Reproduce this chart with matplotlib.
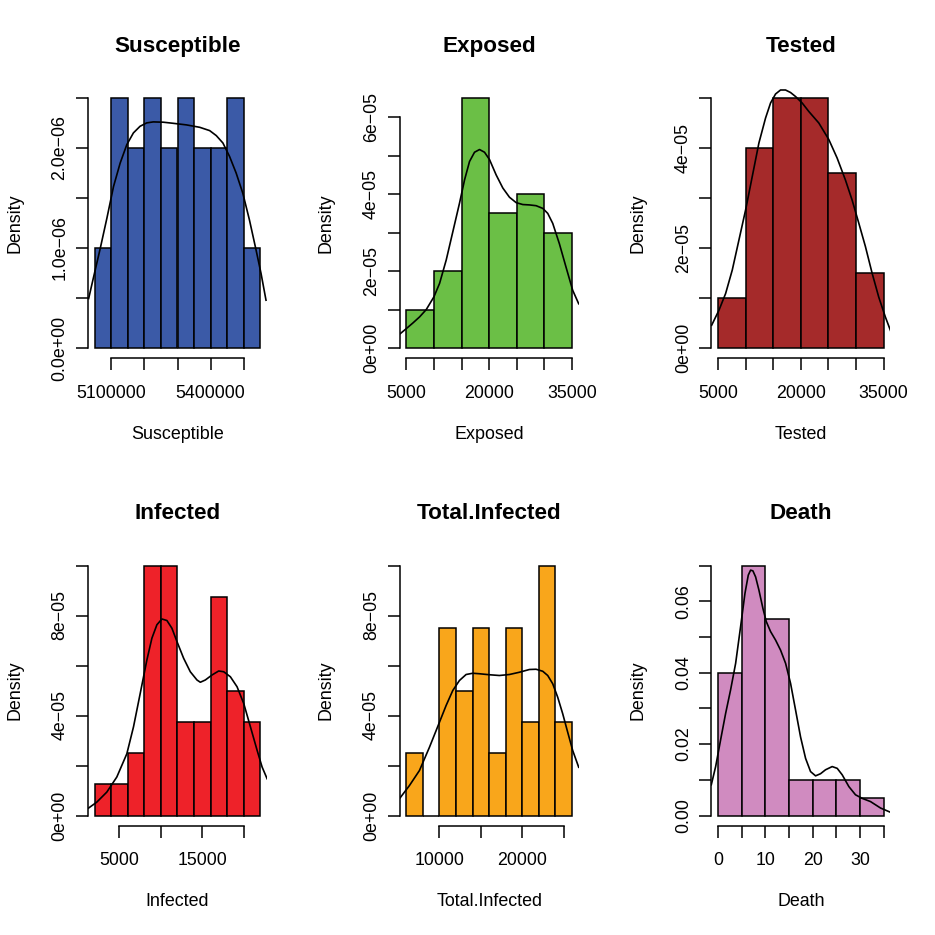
import matplotlib
matplotlib.use('Agg')
import matplotlib.pyplot as plt
import numpy as np

plt.rcParams['font.family'] = ['Liberation Sans', 'DejaVu Sans']

# histogram breaks and densities
sus_breaks = [5050000, 5100000, 5150000, 5200000, 5250000, 5300000, 5350000, 5400000, 5450000, 5500000, 5550000]
sus_density = [1.0e-6, 2.5e-6, 2.0e-6, 2.5e-6, 2.0e-6, 2.5e-6, 2.0e-6, 2.0e-6, 2.5e-6, 1.0e-6]
# density curve points
sus_kde_x = [5032000, 5047000, 5067000, 5087000, 5107000, 5127000, 5147000, 5167000, 5187000, 5207000,
             5227000, 5257000, 5287000, 5327000, 5367000, 5397000, 5417000, 5437000, 5457000, 5477000,
             5497000, 5517000, 5537000, 5552000, 5567000]
sus_kde_y = [0.495e-6, 0.712e-6, 0.997e-6, 1.298e-6, 1.615e-6, 1.849e-6, 2.033e-6, 2.151e-6, 2.217e-6, 2.251e-6,
             2.261e-6, 2.258e-6, 2.247e-6, 2.231e-6, 2.207e-6, 2.174e-6, 2.124e-6, 2.050e-6, 1.916e-6, 1.749e-6,
             1.548e-6, 1.281e-6, 0.980e-6, 0.746e-6, 0.478e-6]

exp_breaks = [5000, 10000, 15000, 20000, 25000, 30000, 35000]
exp_density = [1.0e-5, 2.0e-5, 6.5e-5, 3.5e-5, 4.0e-5, 3.0e-5]
exp_kde_x = [3916, 5000, 6205, 7410, 8614, 10000, 11024, 12229, 13434, 14638,
             15542, 16446, 17349, 18253, 19157, 20060, 21265, 22470, 23674, 24879,
             26084, 27289, 28494, 29699, 30602, 31506, 32711, 33916, 35120, 36205]
exp_kde_y = [0.374e-5, 0.504e-5, 0.652e-5, 0.809e-5, 1.00e-5, 1.33e-5, 1.68e-5, 2.29e-5, 3.03e-5, 3.77e-5,
             4.37e-5, 4.85e-5, 5.09e-5, 5.16e-5, 5.09e-5, 4.90e-5, 4.50e-5, 4.16e-5, 3.92e-5, 3.78e-5,
             3.73e-5, 3.72e-5, 3.70e-5, 3.63e-5, 3.50e-5, 3.24e-5, 2.71e-5, 2.10e-5, 1.50e-5, 1.15e-5]

tes_breaks = [5000, 10000, 15000, 20000, 25000, 30000, 35000]
tes_density = [1.0e-5, 4.0e-5, 5.0e-5, 5.0e-5, 3.5e-5, 1.5e-5]
tes_kde_x = [3855, 5181, 6386, 7590, 8795, 10000, 11205, 12410, 13614, 14518,
             15422, 16325, 17229, 18133, 19036, 20241, 21446, 23253, 25060, 26566,
             28072, 29277, 30482, 31687, 32892, 34096, 35301, 36325]
tes_kde_y = [0.455e-5, 0.756e-5, 1.09e-5, 1.56e-5, 2.16e-5, 2.76e-5, 3.43e-5, 4.10e-5, 4.60e-5, 4.90e-5,
             5.08e-5, 5.16e-5, 5.16e-5, 5.11e-5, 5.03e-5, 4.90e-5, 4.73e-5, 4.50e-5, 4.17e-5, 3.80e-5,
             3.36e-5, 2.96e-5, 2.50e-5, 2.03e-5, 1.50e-5, 1.02e-5, 0.62e-5, 0.32e-5]

inf_breaks = [2000, 4000, 6000, 8000, 10000, 12000, 14000, 16000, 18000, 20000, 22000]
inf_density = [1.25e-5, 1.25e-5, 2.5e-5, 10.0e-5, 10.0e-5, 3.75e-5, 3.75e-5, 8.75e-5, 5.0e-5, 3.75e-5]
inf_kde_x = [1252, 2260, 3469, 4678, 5887, 6693, 7499, 8305, 8909, 9514,
             10118, 10723, 11327, 11932, 12738, 13544, 14350, 14753, 15357, 16163,
             16969, 17574, 18380, 19186, 19992, 20798, 21604, 22208, 22813]
inf_kde_y = [0.294e-5, 0.535e-5, 0.936e-5, 1.54e-5, 2.47e-5, 3.55e-5, 4.88e-5, 6.22e-5, 7.09e-5, 7.63e-5,
             7.86e-5, 7.80e-5, 7.49e-5, 6.96e-5, 6.29e-5, 5.75e-5, 5.42e-5, 5.33e-5, 5.42e-5, 5.62e-5,
             5.78e-5, 5.75e-5, 5.55e-5, 5.15e-5, 4.48e-5, 3.55e-5, 2.61e-5, 1.94e-5, 1.47e-5]

tot_breaks = [6000, 8000, 10000, 12000, 14000, 16000, 18000, 20000, 22000, 24000, 26000]
tot_density = [2.5e-5, 0.0, 7.5e-5, 5.0e-5, 7.5e-5, 2.5e-5, 7.5e-5, 3.75e-5, 10.0e-5, 3.75e-5]
tot_kde_x = [5256, 6382, 7588, 8794, 10000, 10804, 11608, 12412, 13216, 14020,
             14824, 16030, 17236, 18442, 19648, 20854, 21658, 22462, 23065, 23668,
             24271, 24874, 25477, 26080, 26804]
tot_kde_y = [0.707e-5, 1.20e-5, 1.80e-5, 2.73e-5, 3.73e-5, 4.40e-5, 5.00e-5, 5.40e-5, 5.64e-5, 5.69e-5,
             5.67e-5, 5.63e-5, 5.60e-5, 5.64e-5, 5.73e-5, 5.84e-5, 5.85e-5, 5.77e-5, 5.60e-5, 5.27e-5,
             4.73e-5, 4.07e-5, 3.33e-5, 2.60e-5, 1.93e-5]

dea_breaks = [0, 5, 10, 15, 20, 25, 30, 35]
dea_density = [0.040, 0.070, 0.055, 0.010, 0.010, 0.010, 0.005]
dea_kde_x = [-1.41, -0.49, 0.56, 1.62, 2.67, 3.73, 4.78, 5.70, 6.40, 6.89,
             7.38, 7.95, 8.65, 9.49, 10.20, 11.11, 12.17, 13.22, 14.28, 15.33,
             16.39, 17.44, 18.50, 19.55, 20.61, 21.66, 22.71, 24.12, 25.18, 26.23,
             27.64, 29.04, 30.45, 32.21, 34.32, 36.43]
dea_kde_y = [0.0086, 0.0137, 0.0212, 0.0286, 0.0352, 0.0426, 0.0529, 0.0622, 0.0673, 0.0687,
             0.0685, 0.0668, 0.0631, 0.0580, 0.0543, 0.0515, 0.0491, 0.0463, 0.0426, 0.0370,
             0.0295, 0.0220, 0.0160, 0.0123, 0.0111, 0.0117, 0.0128, 0.0137, 0.0132, 0.0114,
             0.0081, 0.0058, 0.0048, 0.0039, 0.0021, 0.0009]

titles = ['Susceptible', 'Exposed', 'Tested', 'Infected', 'Total.Infected', 'Death']
colors = ['#3B5AA7', '#6BBF46', '#A52A2A', '#EE2229', '#F9A61B', '#D08BC0']

# axis ticks and the labels R kept (the others were dropped for overlap)
x_ticks = [
    [5100000, 5200000, 5300000, 5400000, 5500000],
    [5000, 10000, 15000, 20000, 25000, 30000, 35000],
    [5000, 10000, 15000, 20000, 25000, 30000, 35000],
    [5000, 10000, 15000, 20000],
    [10000, 15000, 20000, 25000],
    [0, 5, 10, 15, 20, 25, 30, 35],
]
x_labels = [
    ['5100000', '', '', '5400000', ''],
    ['5000', '', '', '20000', '', '', '35000'],
    ['5000', '', '', '20000', '', '', '35000'],
    ['5000', '', '15000', ''],
    ['10000', '', '20000', ''],
    ['0', '', '10', '', '20', '', '30', ''],
]
y_ticks = [
    [0, 0.5e-6, 1.0e-6, 1.5e-6, 2.0e-6, 2.5e-6],
    [0, 1e-5, 2e-5, 3e-5, 4e-5, 5e-5, 6e-5],
    [0, 1e-5, 2e-5, 3e-5, 4e-5, 5e-5],
    [0, 2e-5, 4e-5, 6e-5, 8e-5, 10e-5],
    [0, 2e-5, 4e-5, 6e-5, 8e-5, 10e-5],
    [0, 0.01, 0.02, 0.03, 0.04, 0.05, 0.06, 0.07],
]
y_labels = [
    ['0.0e+00', '', '1.0e\u221206', '', '2.0e\u221206', ''],
    ['0e+00', '', '2e\u221205', '', '4e\u221205', '', '6e\u221205'],
    ['0e+00', '', '2e\u221205', '', '4e\u221205', ''],
    ['0e+00', '', '4e\u221205', '', '8e\u221205', ''],
    ['0e+00', '', '4e\u221205', '', '8e\u221205', ''],
    ['0.00', '', '0.02', '', '0.04', '', '0.06', ''],
]

breaks = [sus_breaks, exp_breaks, tes_breaks, inf_breaks, tot_breaks, dea_breaks]
densities = [sus_density, exp_density, tes_density, inf_density, tot_density, dea_density]
kde_x = [sus_kde_x, exp_kde_x, tes_kde_x, inf_kde_x, tot_kde_x, dea_kde_x]
kde_y = [sus_kde_y, exp_kde_y, tes_kde_y, inf_kde_y, tot_kde_y, dea_kde_y]

W = 935.0
fig = plt.figure(figsize=(9.35, 9.35), dpi=100)

lw = 1.1
for i in range(6):
    r, c = divmod(i, 3)
    left = (88 + 311.67 * c) / W
    top = (88 + 467.5 * r) / W
    ax = fig.add_axes([left, 1 - top - 270 / W, 179 / W, 270 / W])

    b = np.array(breaks[i], dtype=float)
    d = np.array(densities[i])
    ax.bar(b[:-1], d, width=np.diff(b), align='edge', color=colors[i],
           edgecolor='black', linewidth=lw)
    ax.plot(kde_x[i], kde_y[i], color='black', linewidth=1.2,
            solid_joinstyle='round')

    # R style 4% padding
    xr = b[-1] - b[0]
    ax.set_xlim(b[0] - 0.04 * xr, b[-1] + 0.04 * xr)
    ymax = d.max()
    ax.set_ylim(-0.04 * ymax, ymax * 1.04)

    for s in ['top', 'right']:
        ax.spines[s].set_visible(False)
    ax.spines['left'].set_bounds(y_ticks[i][0], y_ticks[i][-1])
    ax.spines['bottom'].set_bounds(x_ticks[i][0], x_ticks[i][-1])
    ax.spines['left'].set_linewidth(lw)
    ax.spines['bottom'].set_linewidth(lw)

    ax.set_xticks(x_ticks[i])
    ax.set_xticklabels(x_labels[i])
    ax.set_yticks(y_ticks[i])
    ax.set_yticklabels(y_labels[i], rotation=90, va='center')
    ax.tick_params(axis='both', direction='out', length=8.6, width=lw, labelsize=12.8)
    ax.tick_params(axis='x', pad=10.5)
    ax.tick_params(axis='y', pad=5.5)

    ax.set_title(titles[i], fontsize=16.2, fontweight='bold', pad=26)
    ax.set_xlabel(titles[i], fontsize=12.9, va='baseline')
    ax.xaxis.set_label_coords(0.5, -81 / 270)
    ax.set_ylabel('Density', fontsize=12.9, va='baseline')
    ax.yaxis.set_label_coords(-69 / 179, 0.5)

fig.savefig('out.png', dpi=100)
